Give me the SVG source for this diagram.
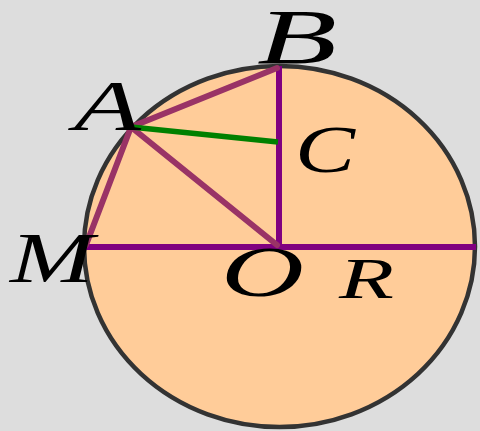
<svg xmlns="http://www.w3.org/2000/svg" width="480" height="431" viewBox="0 0 480 431">
<style>
.lbl{font-family:"Liberation Serif","Times New Roman",serif;font-style:italic;fill:#000}
.p{stroke:#800080;stroke-width:6;fill:none}
.m{stroke:#993366;stroke-width:6;fill:none;stroke-linecap:round}
</style>
<rect width="480" height="431" fill="#dddddd"/>
<g id="circle">
<ellipse cx="279.5" cy="246.5" rx="195.5" ry="180.5" fill="#ffcc99" stroke="#333333" stroke-width="4.5"/>
</g>
<g id="connectors">
<line class="p" x1="84" y1="247" x2="476" y2="247"/>
<line class="p" x1="279" y1="66" x2="279" y2="247"/>
<line class="m" x1="131" y1="127" x2="277" y2="68"/>
<line class="m" x1="131" y1="127" x2="277" y2="245"/>
<line class="m" x1="131" y1="127" x2="86" y2="245"/>
<line x1="131" y1="127" x2="278" y2="142" stroke="#008000" stroke-width="5.5"/>
</g>
<g id="B"><text class="lbl" x="257" y="63" font-size="78" textLength="80" lengthAdjust="spacingAndGlyphs">B</text></g>
<g id="A"><text class="lbl" x="74" y="130" font-size="72" textLength="67" lengthAdjust="spacingAndGlyphs">A</text></g>
<g id="C"><text class="lbl" x="295" y="172" font-size="68" textLength="60" lengthAdjust="spacingAndGlyphs">C</text></g>
<g id="M"><text class="lbl" x="10" y="282" font-size="72" textLength="84" lengthAdjust="spacingAndGlyphs">M</text></g>
<g id="O"><text class="lbl" x="221" y="296" font-size="72" textLength="83" lengthAdjust="spacingAndGlyphs">O</text></g>
<g id="R"><text class="lbl" x="339" y="298" font-size="56" textLength="55" lengthAdjust="spacingAndGlyphs">R</text></g>
</svg>
